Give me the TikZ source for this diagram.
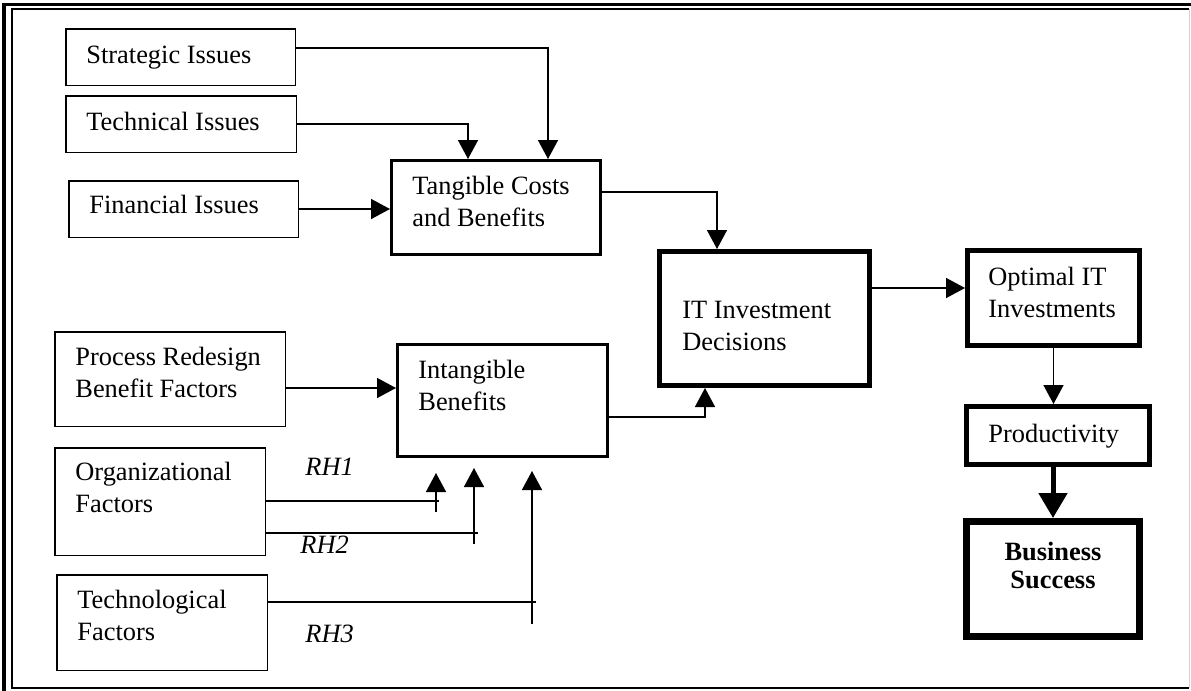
\documentclass[tikz,border=0pt]{standalone}
\usepackage{fontspec}
\setmainfont{Liberation Serif}
\usetikzlibrary{arrows.meta}
\newcommand{\twolines}[1]{\begin{tabular}[t]{@{}l@{}}#1\end{tabular}}
\tikzset{
    box/.style={draw, rectangle, inner sep=0pt, line width=.75pt},
    thickbox/.style={box, line width=1.5pt},
    heavybox/.style={box, line width=2.5pt},
    heaviestbox/.style={box, line width=3.5pt},
    txt/.style={inner sep=0pt, anchor=base west, font=\fontsize{13.2}{16}\selectfont},
    rh/.style={txt, font=\fontsize{13.2}{16}\selectfont\itshape},
    arr/.style={-{Triangle[length=9.5pt,width=10pt]}, line width=.75pt},
    bigarr/.style={-{Triangle[length=12.5pt,width=14pt]}, line width=2.5pt},
    line/.style={line width=.75pt}
}

\begin{document}
\begin{tikzpicture}[x=0.5pt, y=-0.5pt]
    \useasboundingbox (0,0) rectangle (1191,691);
    % frame
    \draw[line width=1.5pt] (4,691) -- (4,4) -- (1191,4);
    \draw[line width=1pt] (1189,9) -- (12,9) -- (12,688) -- (1189,688);
    \draw[gray!35, line width=.5pt] (1189.5,9) -- (1189.5,688);

    \node[box, minimum width=114.75pt, minimum height=28.25pt] (strat) at (180.5,57) {};
    \node[box, minimum width=115.25pt, minimum height=28.25pt] (tech) at (181,124) {};
    \node[box, minimum width=114.75pt, minimum height=28.25pt] (fin) at (183.5,209) {};
    \node[box, minimum width=115.25pt, minimum height=47.25pt] (proc) at (170,379) {};
    \node[box, minimum width=105.25pt, minimum height=53.75pt] (org) at (160,501.5) {};
    \node[box, minimum width=105.25pt, minimum height=47.75pt] (techno) at (162,622.5) {};
    \node[thickbox, minimum width=104.5pt, minimum height=47pt] (tang) at (496,207.5) {};
    \node[thickbox, minimum width=105pt, minimum height=56pt] (intan) at (502.5,400.5) {};
    \node[heavybox, minimum width=105pt, minimum height=67pt] (itdec) at (764.5,318.5) {};
    \node[heavybox, minimum width=86pt, minimum height=47.5pt] (optim) at (1053.5,298) {};
    \node[heavybox, minimum width=91.5pt, minimum height=29pt] (prod) at (1058,435.5) {};
    \node[heaviestbox, minimum width=86.5pt, minimum height=57.5pt] (busi) at (1053,579) {};

    \node[txt] (strat-t) at (86,63) {Strategic Issues};
    \node[txt] (tech-t) at (86,130) {Technical Issues};
    \node[txt] (fin-t) at (89,213) {Financial Issues};
    \node[txt] (tang-t) at (412,194) {\twolines{Tangible Costs\\and Benefits}};
    \node[txt] (proc-t) at (75,365) {\twolines{Process Redesign\\Benefit Factors}};
    \node[txt] (org-t) at (75,480) {\twolines{Organizational\\Factors}};
    \node[txt] (techno-t) at (77,608) {\twolines{Technological\\Factors}};
    \node[txt] (intan-t) at (418,378) {\twolines{Intangible\\Benefits}};
    \node[txt] (itdec-t) at (682,318) {\twolines{IT Investment\\Decisions}};
    \node[txt] (optim-t) at (988,285) {\twolines{Optimal IT\\Investments}};
    \node[txt] (prod-t) at (988,442) {Productivity};
    \node[txt, anchor=base] (busi-t) at (1053,560)
        {\bfseries\def\arraystretch{.875}\begin{tabular}[t]{@{}c@{}}Business\\Success\end{tabular}};
    \node[rh] (rh1) at (305,475) {RH1};
    \node[rh] (rh2) at (300,553) {RH2};
    \node[rh] (rh3) at (305,642) {RH3};

    \coordinate (h1end) at (439,501);
    \coordinate (h2end) at (478,533);
    \coordinate (h3end) at (536,602);
    \coordinate (v1a) at (436,512);
    \coordinate (v1b) at (436,473);
    \coordinate (v2a) at (474,544);
    \coordinate (v2b) at (474,468);
    \coordinate (v3a) at (532,624);
    \coordinate (v3b) at (532,471);

    \draw[arr] ([yshift=4.5pt]strat.east) -| ([xshift=26pt]tang.north);
    \draw[arr] (tech.east) -| ([xshift=-14pt]tang.north);
    \draw[arr] (fin.east) -- (fin.east -| tang.west);
    \draw[arr] ([yshift=7.75pt]tang.east) -| ([xshift=-23.75pt]itdec.north);
    \draw[arr] ([yshift=-4.5pt]proc.east) -- ([yshift=-4.5pt]proc.east -| intan.west);
    \draw[arr] ([yshift=-8.25pt]intan.east) -| ([xshift=-29.75pt]itdec.south);
    \draw[arr] ([yshift=15.25pt]itdec.east) -- ([yshift=15.25pt]itdec.east -| optim.west);
    \draw[arr] (optim.south) -- (optim.south |- prod.north);
    \draw[bigarr] (prod.south -| busi.north) -- (busi.north);

    \draw[line] (org.east |- h1end) -- (h1end);
    \draw[line] (org.east |- h2end) -- (h2end);
    \draw[line] (techno.east |- h3end) -- (h3end);
    \draw[arr] (v1a) -- (v1b);
    \draw[arr] (v2a) -- (v2b);
    \draw[arr] (v3a) -- (v3b);
\end{tikzpicture}
\end{document}
